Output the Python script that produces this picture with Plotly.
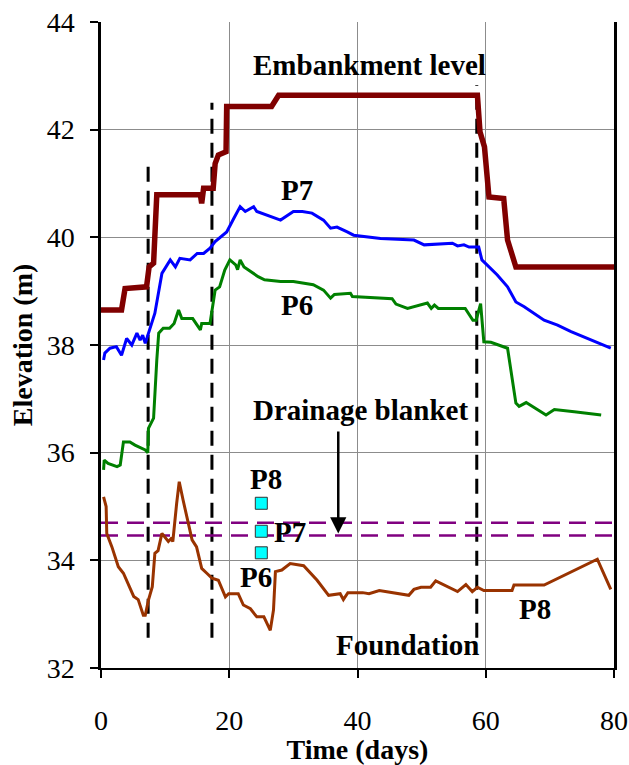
import plotly.graph_objects as go

# Embankment level
emb_t = [0, 3.2, 3.75, 7.1, 7.5, 8.2, 8.7, 15.5, 15.7, 16.0, 17.5, 17.8, 18.3, 19.5, 19.6, 26.6, 27.7, 58.7, 59.1, 59.8, 60.5, 62.8, 63.4, 64.7, 80]
emb_y = [38.65, 38.65, 39.05, 39.08, 39.45, 39.52, 40.79, 40.79, 40.63, 40.91, 40.91, 41.37, 41.53, 41.59, 42.43, 42.43, 42.64, 42.64, 41.96, 41.68, 40.75, 40.72, 39.95, 39.45, 39.45]

# P7
p7_t = [0.4, 0.6, 1.4, 2.4, 3.2, 4.0, 4.8, 5.6, 6.1, 6.5, 6.9, 7.7, 8.4, 9.5, 10.8, 11.6, 12.3, 13.9, 15.0, 16.0, 17.0, 17.8, 19.6, 20.7, 21.7, 22.5, 23.8, 24.3, 26.0, 28.0, 30.0, 31.4, 32.9, 34.7, 35.8, 36.8, 38.4, 39.4, 43.6, 48.8, 50.4, 54.8, 55.6, 56.6, 57.4, 58.9, 59.4, 61.8, 63.4, 64.7, 66.0, 69.1, 71.2, 73.3, 79.5]
p7_y = [37.72, 37.85, 37.94, 37.97, 37.81, 38.12, 38.00, 38.22, 38.09, 38.18, 38.03, 38.34, 38.59, 39.33, 39.58, 39.45, 39.61, 39.58, 39.70, 39.70, 39.80, 39.92, 40.10, 40.35, 40.57, 40.48, 40.57, 40.48, 40.40, 40.32, 40.48, 40.48, 40.45, 40.32, 40.17, 40.19, 40.10, 40.04, 39.98, 39.95, 39.86, 39.89, 39.84, 39.86, 39.82, 39.82, 39.58, 39.30, 39.08, 38.80, 38.71, 38.46, 38.37, 38.25, 37.94]

# P6
p6_t = [0.4, 0.5, 1.1, 2.5, 3.0, 3.5, 4.5, 5.3, 6.9, 7.3, 7.4, 8.2, 8.7, 9.0, 9.7, 10.7, 11.4, 12.1, 12.6, 14.3, 15.5, 15.7, 17.0, 17.8, 18.5, 19.3, 20.1, 21.0, 21.3, 21.7, 22.3, 23.4, 24.5, 25.5, 28.0, 30.0, 33.1, 34.7, 35.8, 36.4, 38.9, 39.2, 43.9, 45.4, 46.0, 47.8, 50.9, 51.5, 52.0, 52.6, 56.8, 58.0, 58.5, 59.2, 59.7, 60.8, 63.4, 64.7, 65.2, 66.3, 69.4, 70.7, 73.8, 78.0]
p6_y = [35.68, 35.86, 35.80, 35.74, 35.77, 36.20, 36.20, 36.14, 36.05, 36.00, 36.45, 36.64, 37.72, 38.22, 38.31, 38.31, 38.40, 38.65, 38.49, 38.49, 38.28, 38.40, 38.40, 39.02, 39.08, 39.39, 39.58, 39.49, 39.40, 39.58, 39.45, 39.36, 39.27, 39.21, 39.18, 39.18, 39.12, 39.02, 38.87, 38.94, 38.96, 38.90, 38.87, 38.86, 38.76, 38.68, 38.78, 38.68, 38.74, 38.68, 38.68, 38.46, 38.46, 38.77, 38.06, 38.05, 37.94, 36.92, 36.86, 36.93, 36.70, 36.80, 36.76, 36.70]

# P8
p8_t = [0.4, 0.8, 0.9, 1.7, 2.7, 3.5, 5.1, 5.8, 6.6, 6.9, 7.4, 8.0, 8.4, 8.9, 9.5, 10.5, 10.9, 11.2, 11.8, 12.2, 12.8, 14.2, 14.9, 15.7, 16.5, 17.3, 18.3, 19.4, 19.9, 21.4, 22.2, 23.3, 24.3, 25.4, 26.4, 26.9, 27.2, 28.2, 29.5, 31.6, 33.7, 35.5, 37.3, 37.8, 38.5, 40.8, 41.8, 43.4, 48.0, 48.8, 49.9, 51.4, 52.2, 53.5, 55.6, 56.9, 57.9, 58.7, 59.7, 64.1, 64.4, 69.1, 77.4, 79.5]
p8_y = [35.18, 35.00, 34.50, 34.25, 33.88, 33.76, 33.33, 33.27, 32.98, 32.98, 33.26, 33.51, 34.13, 34.18, 34.50, 34.35, 34.40, 34.35, 35.06, 35.46, 35.12, 34.38, 34.25, 33.85, 33.76, 33.67, 33.63, 33.32, 33.38, 33.38, 33.17, 33.10, 32.95, 32.95, 32.70, 33.08, 33.79, 33.82, 33.94, 33.90, 33.63, 33.35, 33.38, 33.27, 33.40, 33.40, 33.38, 33.44, 33.35, 33.46, 33.50, 33.50, 33.62, 33.54, 33.42, 33.55, 33.42, 33.50, 33.44, 33.44, 33.54, 33.54, 34.02, 33.46]

# Stage boundaries (vertical dashed lines): day, top, bottom
stage_t = [7.35, 17.3, 58.6]
stage_top = [41.38, 42.5, 42.83]
stage_bot = [32.56, 32.56, 32.56]

# Drainage blanket limits
blanket_y = [34.70, 34.46]

# Piezometer positions
piezo_t = [25.0, 25.0, 25.0]
piezo_y = [35.06, 34.54, 34.14]

x_ticks = [0, 20, 40, 60, 80]
y_ticks = [32, 34, 36, 38, 40, 42, 44]

FONT = "Liberation Serif"

fig = go.Figure()

for t, top, bot in zip(stage_t, stage_top, stage_bot):
    fig.add_trace(go.Scatter(x=[t, t], y=[bot, top], mode="lines",
                             line=dict(color="black", width=3, dash="15px,9px"),
                             showlegend=False, hoverinfo="skip"))

for by in blanket_y:
    fig.add_trace(go.Scatter(x=[0, 80], y=[by, by], mode="lines",
                             line=dict(color="#800080", width=2.5, dash="17px,9px"),
                             showlegend=False, hoverinfo="skip"))

fig.add_trace(go.Scatter(x=emb_t, y=emb_y, mode="lines", line=dict(color="#800000", width=5.5), showlegend=False))
fig.add_trace(go.Scatter(x=p7_t, y=p7_y, mode="lines", line=dict(color="#0000FF", width=3), showlegend=False))
fig.add_trace(go.Scatter(x=p6_t, y=p6_y, mode="lines", line=dict(color="#008000", width=3), showlegend=False))
fig.add_trace(go.Scatter(x=p8_t, y=p8_y, mode="lines", line=dict(color="#993300", width=3), showlegend=False))

fig.add_trace(go.Scatter(x=piezo_t, y=piezo_y, mode="markers",
                         marker=dict(symbol="square", size=12, color="#00FFFF", line=dict(color="#333333", width=1)),
                         showlegend=False))

def label(x, y, text, size=29):
    fig.add_annotation(x=x, y=y, xref="x", yref="y", text=text, showarrow=False,
                       font=dict(family=FONT, size=size, color="black", weight="bold"))

label(41.9, 43.2, "Embankment level")
label(30.6, 40.88, "P7")
label(30.6, 38.74, "P6")
label(40.5, 36.79, "Drainage blanket")
label(25.8, 35.51, "P8")
label(29.4, 34.53, "P7")
label(24.2, 33.69, "P6")
label(47.8, 32.43, "Foundation")
label(67.7, 33.1, "P8")

fig.add_annotation(x=37.0, y=34.5, ax=37.0, ay=36.42, xref="x", yref="y", axref="x", ayref="y",
                   text="", showarrow=True, arrowhead=2, arrowsize=1.3, arrowwidth=2.5, arrowcolor="black")

fig.update_layout(
    width=629, height=765,
    margin=dict(l=101, r=15, t=22, b=97, autoexpand=False),
    paper_bgcolor="white", plot_bgcolor="white",
    font=dict(family=FONT, color="black"),
)
fig.update_xaxes(range=[0, 80], tickvals=x_ticks, showgrid=True, gridcolor="#8c8c8c", gridwidth=1,
                 zeroline=False, showline=True, linecolor="black", linewidth=2, automargin=False,
                 ticks="outside", ticklen=8, tickwidth=2, tickcolor="black",
                 ticklabelstandoff=18, tickfont=dict(size=28, family=FONT),
                 title=dict(text="Time (days)", font=dict(size=28, family=FONT, weight="bold"), standoff=0))
fig.update_yaxes(range=[32, 44], tickvals=y_ticks, showgrid=True, gridcolor="#8c8c8c", gridwidth=1,
                 zeroline=False, showline=True, linecolor="black", linewidth=2.5, mirror=True, automargin=False,
                 ticks="outside", ticklen=8, tickwidth=2, tickcolor="black",
                 ticklabelstandoff=10, tickfont=dict(size=28, family=FONT),
                 title=dict(text="Elevation (m)", font=dict(size=28, family=FONT, weight="bold"), standoff=6))

fig.write_html("out.html")
